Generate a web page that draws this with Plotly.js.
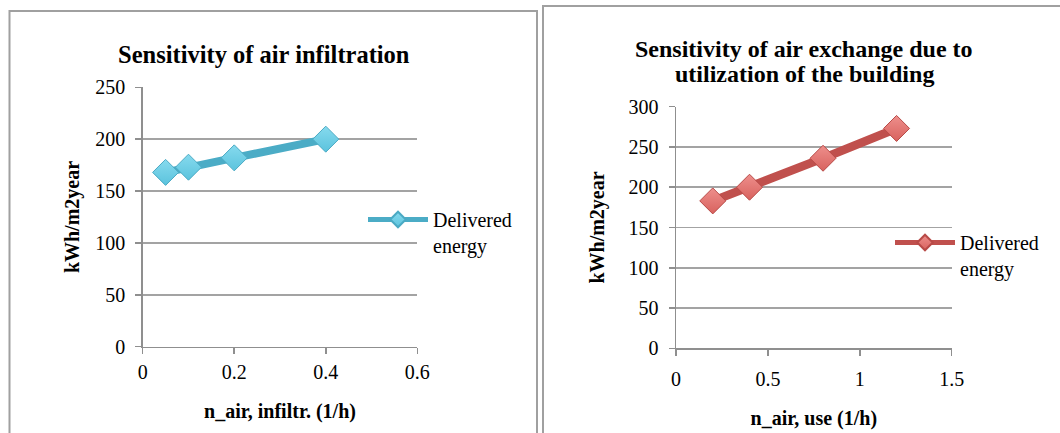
<!DOCTYPE html>
<html>
<head>
<meta charset="utf-8">
<script src="https://cdn.plot.ly/plotly-3.0.1.min.js"></script>
<style>html,body{margin:0;padding:0;background:#fff;}#chart{width:1060px;height:433px;}</style>
</head>
<body>
<div id="chart"></div>
<script>
// Left chart: Sensitivity of air infiltration
const infiltrX = [0.05, 0.1, 0.2, 0.4];
const infiltrY = [168, 173, 182, 200];
// Right chart: Sensitivity of air exchange due to utilization
const useX = [0.2, 0.4, 0.8, 1.2];
const useY = [183, 200, 236, 273];
const seriesName = 'Delivered<br>energy';
const leftTitle = 'Sensitivity of air infiltration';
const rightTitle1 = 'Sensitivity of air exchange due to';
const rightTitle2 = 'utilization of the building';
const leftXTitle = 'n_air, infiltr. (1/h)';
const rightXTitle = 'n_air, use (1/h)';
const yTitle = 'kWh/m2year';

const serif = 'Liberation Serif';
const W = 1060, H = 433;
const px = v => v / W;
const py = v => 1 - v / H;

const traces = [
  {
    x: infiltrX, y: infiltrY, xaxis: 'x', yaxis: 'y', type: 'scatter', mode: 'lines+markers',
    name: seriesName, legend: 'legend',
    line: {color: '#4BACC6', width: 8},
    marker: {symbol: 'diamond', size: 20, color: '#86DAEE',
             gradient: {type: 'vertical', color: '#5BC3DD'},
             line: {color: '#4AAAC4', width: 1}}
  },
  {
    x: useX, y: useY, xaxis: 'x2', yaxis: 'y2', type: 'scatter', mode: 'lines+markers',
    name: seriesName, legend: 'legend2',
    line: {color: '#C0504D', width: 8.5},
    marker: {symbol: 'diamond', size: 20, color: '#EE8F8C',
             gradient: {type: 'vertical', color: '#D8625E'},
             line: {color: '#B84A47', width: 1}}
  }
];

const axisCommon = {
  showline: true, linecolor: '#8F8F8F', linewidth: 1.5,
  ticks: 'outside', ticklen: 6, tickcolor: '#8F8F8F', tickwidth: 1.5,
  tickfont: {family: serif, size: 20, color: '#000'},
  zeroline: false, fixedrange: true
};
const titleFont = {family: serif, size: 20, color: '#000', weight: 'bold'};

const layout = {
  width: W, height: H,
  margin: {l: 0, r: 0, t: 0, b: 0},
  paper_bgcolor: '#fff', plot_bgcolor: 'rgba(0,0,0,0)',
  showlegend: true,
  font: {family: serif, color: '#000'},
  xaxis: Object.assign({}, axisCommon, {
    domain: [px(142.7), px(417.3)], range: [0, 0.6], dtick: 0.2, showgrid: false,
    anchor: 'y', ticklabelstandoff: 1,
    title: {text: leftXTitle, font: titleFont, standoff: 22}
  }),
  yaxis: Object.assign({}, axisCommon, {
    domain: [py(346.7), py(87.3)], range: [0, 250], dtick: 50, showgrid: true,
    gridcolor: '#A3A3A3', gridwidth: 1.5, anchor: 'x', ticklabelstandoff: 6,
    title: {text: yTitle, font: titleFont, standoff: 10}
  }),
  xaxis2: Object.assign({}, axisCommon, {
    domain: [px(676), px(951.7)], range: [0, 1.5], dtick: 0.5, showgrid: false,
    anchor: 'y2', ticklabelstandoff: 6,
    title: {text: rightXTitle, font: titleFont, standoff: 22}
  }),
  yaxis2: Object.assign({}, axisCommon, {
    domain: [py(348.3), py(106.7)], range: [0, 300], dtick: 50, showgrid: true,
    gridcolor: '#A3A3A3', gridwidth: 1.5, anchor: 'x2', ticklabelstandoff: 6,
    title: {text: yTitle, font: titleFont, standoff: 18}
  }),
  legend: {
    x: px(363), y: py(200), xanchor: 'left', yanchor: 'top', valign: 'top',
    bgcolor: 'rgba(0,0,0,0)', itemwidth: 60, itemsizing: 'constant',
    font: {family: serif, size: 20, color: '#000'}
  },
  legend2: {
    x: px(890), y: py(223), xanchor: 'left', yanchor: 'top', valign: 'top',
    bgcolor: 'rgba(0,0,0,0)', itemwidth: 60, itemsizing: 'constant',
    font: {family: serif, size: 20, color: '#000'}
  },
  annotations: [
    {text: leftTitle, xref: 'paper', yref: 'paper', x: px(264), y: py(55),
     xanchor: 'center', yanchor: 'middle', showarrow: false,
     font: {family: serif, size: 24.5, color: '#000', weight: 'bold'}},
    {text: rightTitle1, xref: 'paper', yref: 'paper', x: px(804), y: py(49),
     xanchor: 'center', yanchor: 'middle', showarrow: false,
     font: {family: serif, size: 24, color: '#000', weight: 'bold'}},
    {text: rightTitle2, xref: 'paper', yref: 'paper', x: px(804), y: py(74),
     xanchor: 'center', yanchor: 'middle', showarrow: false,
     font: {family: serif, size: 24, color: '#000', weight: 'bold'}}
  ],
  shapes: [
    {type: 'rect', xref: 'paper', yref: 'paper', x0: px(9.5), x1: px(537), y0: py(445), y1: py(11),
     line: {color: '#A0A0A0', width: 2}},
    {type: 'rect', xref: 'paper', yref: 'paper', x0: px(543), x1: px(1075), y0: py(445), y1: py(6),
     line: {color: '#A0A0A0', width: 2}}
  ]
};

Plotly.newPlot('chart', traces, layout, {displayModeBar: false, staticPlot: true});
</script>
</body>
</html>
